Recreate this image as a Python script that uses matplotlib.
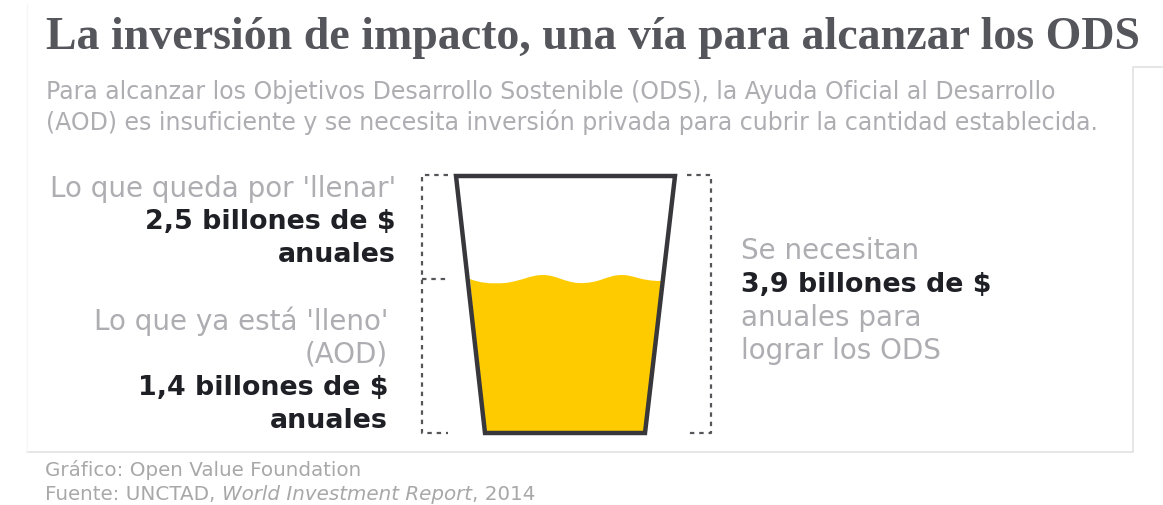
# -*- coding: utf-8 -*-
import matplotlib.pyplot as plt
from matplotlib.path import Path
from matplotlib.patches import PathPatch, Polygon

W = 1163
H = 506

title = "La inversión de impacto, una vía para alcanzar los ODS"
intro = ["Para alcanzar los Objetivos Desarrollo Sostenible (ODS), la Ayuda Oficial al Desarrollo",
         "(AOD) es insuficiente y se necesita inversión privada para cubrir la cantidad establecida."]
falta = ["Lo que queda por 'llenar'", "2,5 billones de $", "anuales"]
lleno = ["Lo que ya está 'lleno'", "(AOD)", "1,4 billones de $", "anuales"]
total = ["Se necesitan", "3,9 billones de $", "anuales para", "lograr los ODS"]
credito = "Gráfico: Open Value Foundation"
fuente = ["Fuente: UNCTAD, ", "World Investment Report", ", 2014"]

GRIS = "#adadb2"
OSCURO = "#1f1f26"
AMARILLO = "#fdcb00"

fig = plt.figure(figsize=(W / 100, H / 100), dpi=100, facecolor="white")
ax = fig.add_axes([0, 0, 1, 1])
ax.set_xlim(0, W)
ax.set_ylim(H, 0)
ax.axis("off")

# recuadro claro detras del grafico
ax.plot([1163, 1133, 1133, 27], [67.5, 67.5, 452.5, 452.5], color="#e2e2e2", lw=1.2)
ax.plot([27, 27], [5, 452], color="#f6f6f6", lw=1)

ax.text(46, 49, title, family="Liberation Serif", weight="bold", fontsize=33,
        color="#55555c", ha="left", va="baseline")

for y, linea in zip([92, 122], intro):
    ax.text(46, y, linea, family="DejaVu Sans", fontsize=17, color=GRIS, ha="left", va="center")


def bloque(x, ys, lineas, negritas, ha):
    for i, (y, linea) in enumerate(zip(ys, lineas)):
        if i in negritas:
            ax.text(x, y, linea, family="DejaVu Sans", weight="bold", fontsize=19.4,
                    color=OSCURO, ha=ha, va="center")
        else:
            ax.text(x, y, linea, family="DejaVu Sans", fontsize=20, color=GRIS, ha=ha, va="center")


bloque(396, [189, 222, 255], falta, [1, 2], "right")
bloque(388, [321, 354, 388, 421], lleno, [2, 3], "right")
bloque(741, [251, 285, 318, 351], total, [1], "left")

# liquido con la superficie ondulada
verts = [(470, 280), (480, 284), (490, 285), (505, 284),
         (522, 282), (530, 276), (543, 276),
         (556, 276), (564, 283), (578, 284),
         (600, 285), (606, 276), (622, 276),
         (634, 276), (640, 282), (661, 282),
         (645, 434), (484, 434), (470, 280)]
codes = [Path.MOVETO] + [Path.CURVE4] * 15 + [Path.LINETO] * 3
ax.add_patch(PathPatch(Path(verts, codes), facecolor=AMARILLO, edgecolor="none", zorder=2))

# vaso
ax.add_patch(Polygon([(456, 177), (675, 177), (645, 434), (485, 434)], closed=True,
                     facecolor="none", edgecolor="#37373c", lw=3.2, joinstyle="miter", zorder=3))

# llaves punteadas
puntos = dict(color="#55555a", lw=1.6, ls=(0, (2, 2.2)), zorder=1)
ax.plot([448, 422, 422, 448], [176, 176, 434, 434], **puntos)
ax.plot([422, 446], [280, 280], **puntos)
ax.plot([687, 711, 711, 687], [176, 176, 434, 434], **puntos)

# creditos, la parte en cursiva va a continuacion en la misma linea base
pie = dict(family="DejaVu Sans", fontsize=14.3, color="#a8a8a8", va="baseline", ha="left")
ax.text(45, 476, credito, **pie)
renderer = fig.canvas.get_renderer()
x = 45
for i, trozo in enumerate(fuente):
    t = ax.text(x, 500, trozo, style="italic" if i == 1 else "normal", **pie)
    x = t.get_window_extent(renderer).x1

fig.savefig("out.png", dpi=100)
